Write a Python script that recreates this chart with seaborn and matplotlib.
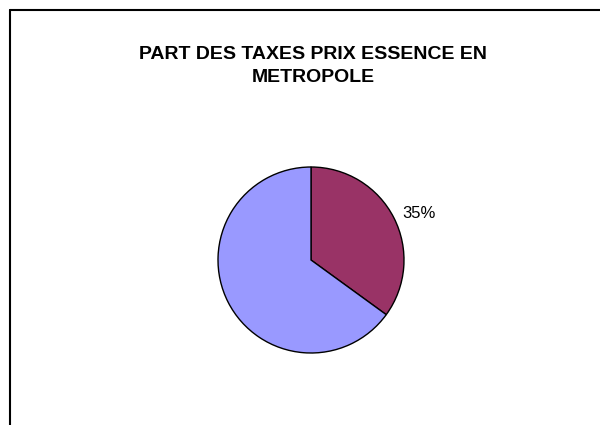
import matplotlib
matplotlib.use("Agg")
import matplotlib.pyplot as plt
from matplotlib.lines import Line2D
import seaborn as sns

# %%
categories = ["Taxes", "Hors taxes"]
shares = [35, 65]
slice_labels = ["35%", ""]
colors = ["#993366", "#9999FF"]
title = "PART DES TAXES PRIX ESSENCE EN\nMETROPOLE"

# %%
sns.set_theme(style="white")
plt.rcParams["font.family"] = ["Liberation Sans", "DejaVu Sans"]

fig = plt.figure(figsize=(6, 4.25), dpi=100)
fig.patch.set_facecolor("white")

# chart frame (cropped: only top and left edges visible)
fig.add_artist(Line2D([9.5 / 600, 1.0], [1 - 10 / 425, 1 - 10 / 425], color="black", lw=1.5))
fig.add_artist(Line2D([9.5 / 600, 9.5 / 600], [0.0, 1 - 10 / 425], color="black", lw=1.5))

ax = fig.add_axes([(311 - 93) / 600, (425 - 260 - 93) / 425, 186 / 600, 186 / 425])
ax.pie(
    shares,
    labels=slice_labels,
    colors=colors,
    startangle=90,
    counterclock=False,
    labeldistance=1.1,
    wedgeprops=dict(edgecolor="black", linewidth=1),
    textprops=dict(fontsize=12, color="black"),
)
ax.set_xlim(-1, 1)
ax.set_ylim(-1, 1)
ax.set_aspect("equal")
ax.axis("off")

fig.text(313 / 600, 1 - 66 / 425, title, ha="center", va="center", color="black",
         fontsize=14, fontweight="bold", linespacing=1.48)

fig.savefig("out.png", dpi=100)
